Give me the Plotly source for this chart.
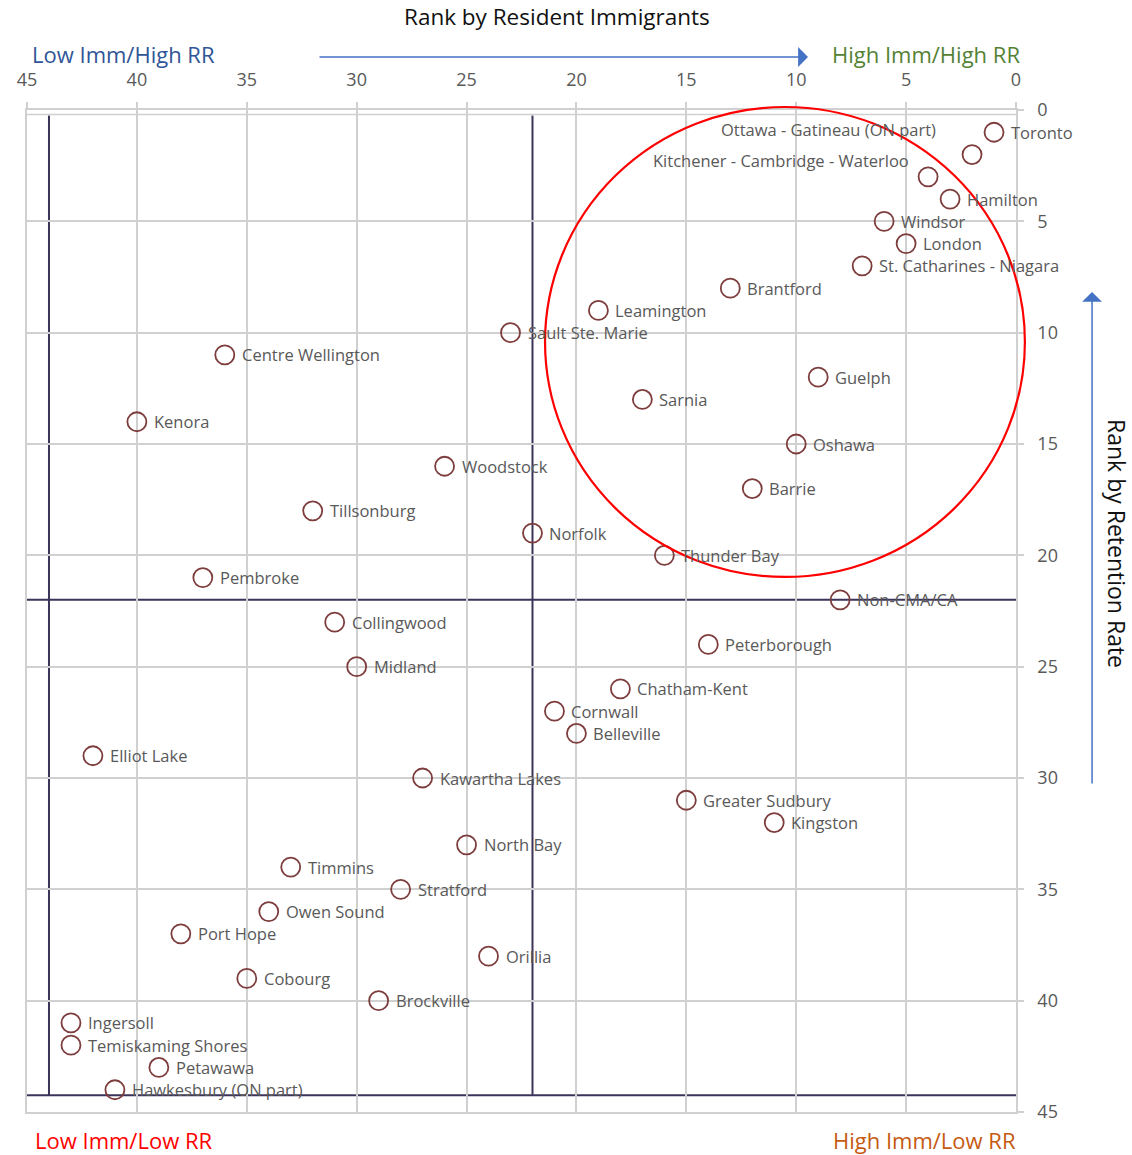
import plotly.graph_objects as go

# ---- data (ranks) ----
cities = [
    "Toronto", "Ottawa - Gatineau (ON part)", "Kitchener - Cambridge - Waterloo", "Hamilton",
    "Windsor", "London", "St. Catharines - Niagara", "Brantford", "Leamington",
    "Sault Ste. Marie", "Centre Wellington", "Guelph", "Sarnia", "Kenora", "Oshawa",
    "Woodstock", "Barrie", "Tillsonburg", "Norfolk", "Thunder Bay", "Pembroke",
    "Non-CMA/CA", "Collingwood", "Peterborough", "Midland", "Chatham-Kent", "Cornwall",
    "Belleville", "Elliot Lake", "Kawartha Lakes", "Greater Sudbury", "Kingston",
    "North Bay", "Timmins", "Stratford", "Owen Sound", "Port Hope", "Orillia",
    "Cobourg", "Brockville", "Ingersoll", "Temiskaming Shores", "Petawawa",
    "Hawkesbury (ON part)",
]
imm_rank = [1, 2, 4, 3, 6, 5, 7, 13, 19, 23, 36, 9, 17, 40, 10, 26, 12, 32, 22, 16, 37,
            8, 31, 14, 30, 18, 21, 20, 42, 27, 15, 11, 25, 33, 28, 34, 38, 24, 35, 29,
            43, 43, 39, 41]
rr_rank = [1, 2, 3, 4, 5, 6, 7, 8, 9, 10, 11, 12, 13, 14, 15, 16, 17, 18, 19, 20, 21,
           22, 23, 24, 25, 26, 27, 28, 29, 30, 31, 32, 33, 34, 35, 36, 37, 38, 39, 40,
           41, 42, 43, 44]
x_ticks = [45, 40, 35, 30, 25, 20, 15, 10, 5, 0]
y_ticks = [0, 5, 10, 15, 20, 25, 30, 35, 40, 45]
# quadrant divider lines (ranks)
div_x = [44, 22]
div_y = [22, 44.25]

FONT = "Open Sans"
GRID = "#D0D0D0"
DARK = "#3B3358"
MARK = "#7E3D3D"
TXT = "#595959"

fig = go.Figure()
fig.add_trace(go.Scatter(
    x=imm_rank, y=rr_rank, mode="markers", text=cities, hoverinfo="text",
    marker=dict(symbol="circle-open", size=19, color=MARK, line=dict(width=1.8, color=MARK)),
    showlegend=False,
))

# divider lines
shapes = []
for v in div_x:
    shapes.append(dict(type="line", xref="x", yref="y", x0=v, x1=v, y0=0.25, y1=max(div_y),
                       line=dict(color=DARK, width=2), layer="below"))
for v in div_y:
    shapes.append(dict(type="line", xref="x", yref="y", x0=45, x1=0, y0=v, y1=v,
                       line=dict(color=DARK, width=2), layer="below"))
# secondary light line just under top axis
shapes.append(dict(type="line", xref="x", yref="y", x0=45, x1=0, y0=0.2, y1=0.2,
                   line=dict(color=GRID, width=1.5), layer="below"))
# red highlight circle
shapes.append(dict(type="circle", xref="paper", yref="paper",
                   x0=0.5238, x1=1.009, y0=0.534, y1=1.003,
                   line=dict(color="#FF0000", width=2.2)))

annotations = []
special = {
    "Ottawa - Gatineau (ON part)": dict(xanchor="right", xshift=-34, yshift=25),
    "Kitchener - Cambridge - Waterloo": dict(xanchor="right", xshift=-17, yshift=16),
}
for name, xv, yv in zip(cities, imm_rank, rr_rank):
    opt = special.get(name, dict(xanchor="left", xshift=15, yshift=0))
    annotations.append(dict(x=xv, y=yv, xref="x", yref="y", text=name, showarrow=False,
                            yanchor="middle", font=dict(family=FONT, size=16.5, color=TXT), **opt))

# titles and quadrant labels
annotations += [
    dict(x=0.536, y=1.0935, xref="paper", yref="paper", text="Rank by Resident Immigrants",
         showarrow=False, font=dict(family=FONT, size=22.5, color="#111111"), xanchor="center", yanchor="middle"),
    dict(x=1.102, y=0.567, xref="paper", yref="paper", text="Rank by Retention Rate", textangle=90,
         showarrow=False, font=dict(family=FONT, size=23, color="#111111"), xanchor="center", yanchor="middle"),
    dict(x=0.003, y=1.0559, xref="paper", yref="paper", text="Low Imm/High RR", showarrow=False,
         font=dict(family=FONT, size=22, color="#2F5597"), xanchor="left", yanchor="middle"),
    dict(x=1.006, y=1.0559, xref="paper", yref="paper", text="High Imm/High RR", showarrow=False,
         font=dict(family=FONT, size=22, color="#548235"), xanchor="right", yanchor="middle"),
    dict(x=0.006, y=-0.028, xref="paper", yref="paper", text="Low Imm/Low RR", showarrow=False,
         font=dict(family=FONT, size=22, color="#FF0000"), xanchor="left", yanchor="middle"),
    dict(x=1.002, y=-0.028, xref="paper", yref="paper", text="High Imm/Low RR", showarrow=False,
         font=dict(family=FONT, size=22, color="#C55A11"), xanchor="right", yanchor="middle"),
    # arrows
    dict(x=0.7897, y=1.0529, xref="paper", yref="paper", ax=-490, ay=0, axref="pixel", ayref="pixel",
         text="", showarrow=True, arrowhead=1, arrowsize=2.2, arrowwidth=1.5, arrowcolor="#4472C4"),
    dict(x=1.0769, y=0.8184, xref="paper", yref="paper", ax=0, ay=493, axref="pixel", ayref="pixel",
         text="", showarrow=True, arrowhead=1, arrowsize=2.2, arrowwidth=1.5, arrowcolor="#4472C4"),
]

fig.update_layout(
    width=1132, height=1155,
    margin=dict(l=27, r=116, t=110, b=43),
    paper_bgcolor="white", plot_bgcolor="white",
    shapes=shapes, annotations=annotations,
    font=dict(family=FONT, color=TXT),
    xaxis=dict(range=[45, 0], side="top", tickvals=x_ticks, ticktext=[str(t) for t in x_ticks],
               showgrid=True, gridcolor=GRID, gridwidth=1.5, zeroline=False,
               showline=True, linecolor=GRID, linewidth=1.5, mirror=True,
               ticks="outside", ticklen=6, tickcolor=GRID, tickwidth=1.5,
               tickfont=dict(family=FONT, size=18, color=TXT), ticklabelstandoff=9),
    yaxis=dict(range=[45, 0], side="right", tickvals=y_ticks, ticktext=[str(t) for t in y_ticks],
               showgrid=True, gridcolor=GRID, gridwidth=1.5, zeroline=False,
               showline=True, linecolor=GRID, linewidth=1.5, mirror=True,
               ticks="outside", ticklen=6, tickcolor=GRID, tickwidth=1.5,
               tickfont=dict(family=FONT, size=18, color=TXT), ticklabelstandoff=10),
)

fig.write_html("out.html", config={"displayModeBar": False},
               post_script="document.body.style.margin='0';document.body.style.overflow='hidden';")
